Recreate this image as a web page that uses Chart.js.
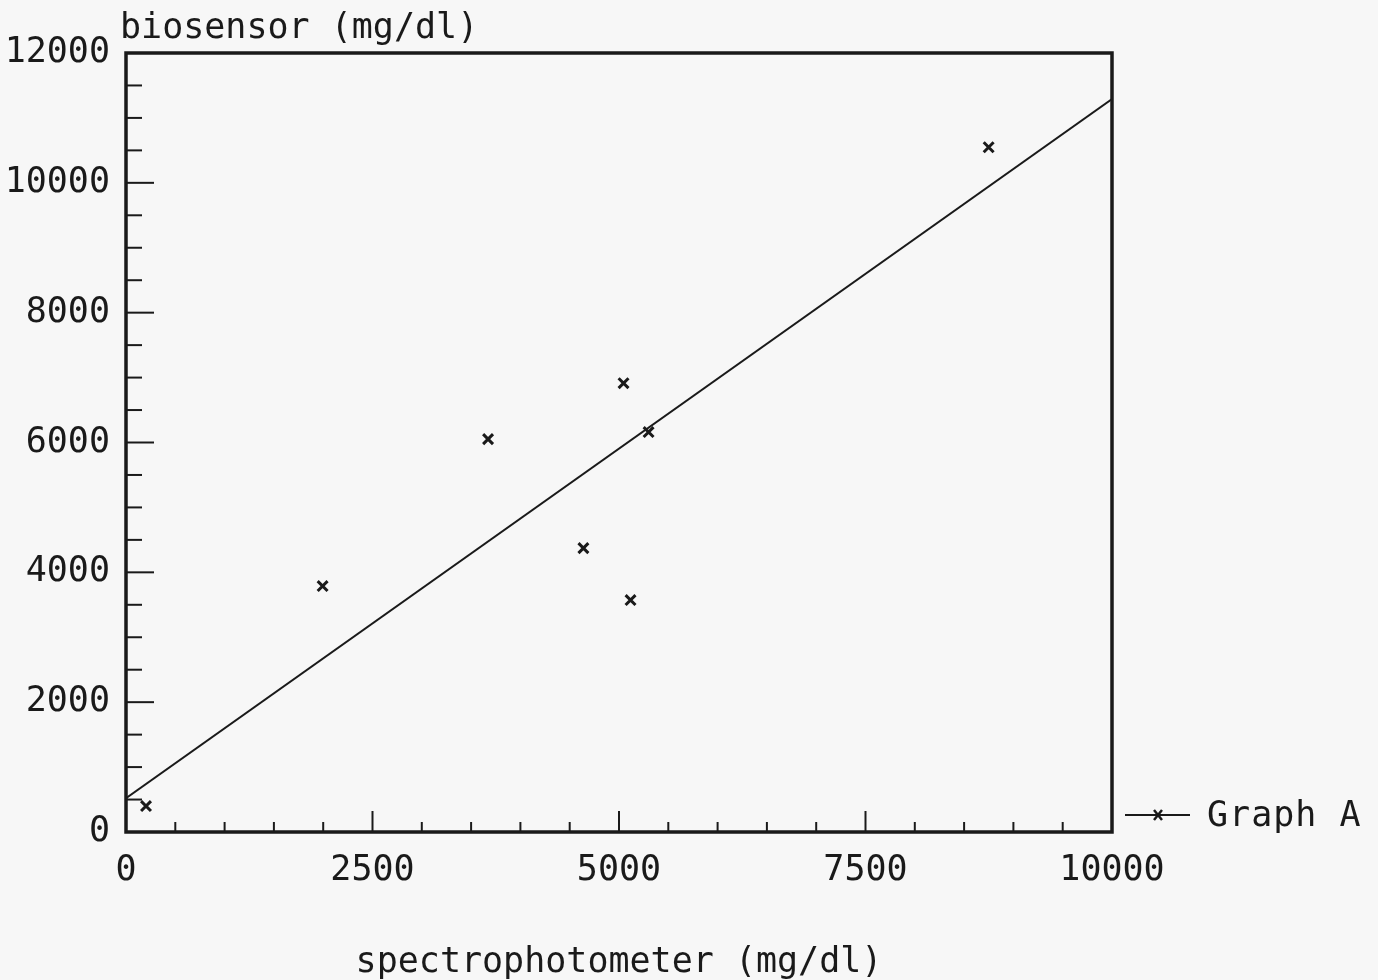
<!DOCTYPE html>
<html>
<head>
<meta charset="utf-8">
<script src="https://cdn.jsdelivr.net/npm/chart.js@4"></script>
<style>
  body { margin: 0; background: #f7f7f7; }
</style>
</head>
<body>
<canvas id="myChart" width="1378" height="980"></canvas>
<script>
// measured points (spectrophotometer vs biosensor, mg/dl)
const spectroValues = [203, 1994, 3672, 4639, 5046, 5300, 5117, 8749];
const biosensorValues = [400, 3788, 6052, 4373, 6914, 6160, 3573, 10548];

// regression line end points
const fitX = [0, 10000];
const fitY = [520, 11290];

const xTickLabels = [0, 2500, 5000, 7500, 10000];
const yTickLabels = [0, 2000, 4000, 6000, 8000, 10000, 12000];

const seriesName = 'Graph A';
const yTitle = 'biosensor (mg/dl)';
const xTitle = 'spectrophotometer (mg/dl)';

const FONT = "'DejaVu Sans Mono', 'Liberation Mono', monospace";
const INK = '#1a1a1a';

function makePoints(xs, ys) {
    let pts = [];
    for (let i = 0; i < xs.length; i++) {
        pts.push({ x: xs[i], y: ys[i] });
    }
    return pts;
}

// frame, inward ticks, y title and legend
const plotterDecor = {
    id: 'plotterDecor',
    beforeDraw(chart) {
        const ctx = chart.ctx;
        ctx.save();
        ctx.fillStyle = '#f7f7f7';
        ctx.fillRect(0, 0, chart.width, chart.height);
        ctx.restore();
    },
    beforeDatasetsDraw(chart) {
        const ctx = chart.ctx;
        const area = chart.chartArea;
        const xs = chart.scales.x;
        const ys = chart.scales.y;
        ctx.save();
        ctx.strokeStyle = INK;
        ctx.lineWidth = 2;
        // x ticks every 500, longer at labels
        for (let v = 500; v < 10000; v += 500) {
            let px = xs.getPixelForValue(v);
            let len = (v % 2500 === 0) ? 21 : 10;
            ctx.beginPath();
            ctx.moveTo(px, area.bottom);
            ctx.lineTo(px, area.bottom - len);
            ctx.stroke();
        }
        // y ticks every 500, longer at labels
        for (let v = 500; v < 12000; v += 500) {
            let py = ys.getPixelForValue(v);
            let len = (v % 2000 === 0) ? 28 : 16;
            ctx.beginPath();
            ctx.moveTo(area.left, py);
            ctx.lineTo(area.left + len, py);
            ctx.stroke();
        }
        // frame
        ctx.lineWidth = 3.5;
        ctx.strokeRect(area.left, area.top, area.right - area.left, area.bottom - area.top);
        ctx.restore();
    },
    afterDraw(chart) {
        const ctx = chart.ctx;
        const area = chart.chartArea;
        ctx.save();
        ctx.fillStyle = INK;
        ctx.font = '35px ' + FONT;
        ctx.textBaseline = 'alphabetic';
        ctx.textAlign = 'left';
        ctx.fillText(yTitle, area.left - 6, 38);

        // legend
        let ly = 815;
        ctx.strokeStyle = INK;
        ctx.lineWidth = 2;
        ctx.beginPath();
        ctx.moveTo(1125, ly);
        ctx.lineTo(1190, ly);
        ctx.stroke();
        ctx.lineWidth = 2.5;
        ctx.beginPath();
        ctx.moveTo(1154, ly - 5);
        ctx.lineTo(1162, ly + 5);
        ctx.moveTo(1162, ly - 5);
        ctx.lineTo(1154, ly + 5);
        ctx.stroke();
        ctx.textBaseline = 'middle';
        ctx.letterSpacing = '1px';
        ctx.fillText(seriesName, 1207, ly + 2);
        ctx.restore();
    }
};

function makeChart() {
    const ctx = document.getElementById('myChart');

    new Chart(ctx, {
        data: {
            datasets: [{
                type: 'scatter',
                label: seriesName,
                data: makePoints(spectroValues, biosensorValues),
                pointStyle: 'crossRot',
                pointRadius: 7,
                pointBorderWidth: 3,
                borderColor: INK,
                backgroundColor: INK
            }, {
                type: 'line',
                label: seriesName + ' fit',
                data: makePoints(fitX, fitY),
                borderColor: INK,
                borderWidth: 2,
                pointRadius: 0,
                fill: false
            }]
        },
        options: {
            responsive: false,
            animation: false,
            devicePixelRatio: 1,
            layout: {
                padding: { left: 0, right: 266, top: 53, bottom: 0 }
            },
            plugins: {
                legend: { display: false },
                tooltip: { enabled: false },
                title: { display: false }
            },
            scales: {
                x: {
                    type: 'linear',
                    min: 0,
                    max: 10000,
                    afterFit: function (scale) { scale.height = 148; },
                    afterBuildTicks: function (scale) {
                        scale.ticks = xTickLabels.map(v => ({ value: v }));
                    },
                    grid: { display: false, drawTicks: false },
                    border: { display: false },
                    ticks: {
                        color: INK,
                        font: { family: FONT, size: 35 },
                        padding: 18,
                        maxRotation: 0,
                        autoSkip: false,
                        callback: function (value) { return String(value); }
                    },
                    title: {
                        display: true,
                        text: xTitle,
                        color: INK,
                        font: { family: FONT, size: 35 },
                        padding: { top: 0, bottom: -4 }
                    }
                },
                y: {
                    type: 'linear',
                    min: 0,
                    max: 12000,
                    afterFit: function (scale) { scale.width = 126; },
                    afterBuildTicks: function (scale) {
                        scale.ticks = yTickLabels.map(v => ({ value: v }));
                    },
                    grid: { display: false, drawTicks: false },
                    border: { display: false },
                    ticks: {
                        color: INK,
                        font: { family: FONT, size: 35 },
                        padding: 16,
                        autoSkip: false,
                        callback: function (value) { return String(value); }
                    }
                }
            }
        },
        plugins: [plotterDecor]
    });
}

makeChart();
</script>
</body>
</html>
